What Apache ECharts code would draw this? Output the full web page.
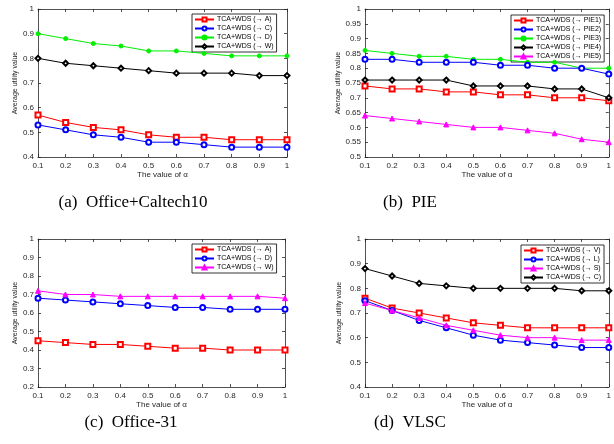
<!DOCTYPE html>
<html><head><meta charset="utf-8">
<script src="https://cdn.jsdelivr.net/npm/echarts@6/dist/echarts.min.js"></script>
<style>html,body{margin:0;padding:0;background:#fff}#c{width:614px;height:444px}</style>
</head><body><div id="c"></div>
<script>
const alphas = [0.1,0.2,0.3,0.4,0.5,0.6,0.7,0.8,0.9,1];

const aNames = ['TCA+WDS (→ A)','TCA+WDS (→ C)','TCA+WDS (→ D)','TCA+WDS (→ W)'];
const aA = [0.57,0.54,0.52,0.51,0.49,0.48,0.48,0.47,0.47,0.47];
const aC = [0.53,0.51,0.49,0.48,0.46,0.46,0.45,0.44,0.44,0.44];
const aD = [0.90,0.88,0.86,0.85,0.83,0.83,0.82,0.81,0.81,0.81];
const aW = [0.80,0.78,0.77,0.76,0.75,0.74,0.74,0.74,0.73,0.73];

const bNames = ['TCA+WDS (→ PIE1)','TCA+WDS (→ PIE2)','TCA+WDS (→ PIE3)','TCA+WDS (→ PIE4)','TCA+WDS (→ PIE5)'];
const bP1 = [0.74,0.73,0.73,0.72,0.72,0.71,0.71,0.70,0.70,0.69];
const bP2 = [0.83,0.83,0.82,0.82,0.82,0.81,0.81,0.80,0.80,0.78];
const bP3 = [0.86,0.85,0.84,0.84,0.83,0.83,0.82,0.82,0.80,0.80];
const bP4 = [0.76,0.76,0.76,0.76,0.74,0.74,0.74,0.73,0.73,0.70];
const bP5 = [0.64,0.63,0.62,0.61,0.60,0.60,0.59,0.58,0.56,0.55];

const cNames = ['TCA+WDS (→ A)','TCA+WDS (→ D)','TCA+WDS (→ W)'];
const cA = [0.45,0.44,0.43,0.43,0.42,0.41,0.41,0.40,0.40,0.40];
const cD = [0.68,0.67,0.66,0.65,0.64,0.63,0.63,0.62,0.62,0.62];
const cW = [0.72,0.70,0.70,0.69,0.69,0.69,0.69,0.69,0.69,0.68];

const dNames = ['TCA+WDS (→ V)','TCA+WDS (→ L)','TCA+WDS (→ S)','TCA+WDS (→ C)'];
const dV = [0.76,0.72,0.70,0.68,0.66,0.65,0.64,0.64,0.64,0.64];
const dL = [0.75,0.71,0.67,0.64,0.61,0.59,0.58,0.57,0.56,0.56];
const dS = [0.74,0.71,0.68,0.65,0.63,0.61,0.60,0.60,0.59,0.59];
const dC = [0.88,0.85,0.82,0.81,0.80,0.80,0.80,0.80,0.79,0.79];

const captions = ['(a)  Office+Caltech10','(b)  PIE','(c)  Office-31','(d)  VLSC'];
const xName = 'The value of α';
const yName = 'Average utility value';

const RED='#ff0000', BLUE='#0000ff', GREEN='#00f000', BLACK='#000000', MAG='#ff00ff';
const sty = {
  red:{c:RED,s:'emptyRect',z:5}, blue:{c:BLUE,s:'emptyCircle',z:5},
  green:{c:GREEN,s:'circle',z:4}, black:{c:BLACK,s:'emptyDiamond',z:6}, mag:{c:MAG,s:'triangle',z:6}
};

const panels = [
  {grid:{left:38,top:9,width:249,height:148}, y:[0.4,1,0.1], gap:19, legend:{left:192,top:14},
   series:[[aNames[0],aA,'red'],[aNames[1],aC,'blue'],[aNames[2],aD,'green'],[aNames[3],aW,'black']]},
  {grid:{left:365,top:9,width:246,height:148}, y:[0.5,1,0.05], gap:23, legend:{left:511,top:15},
   series:[[bNames[0],bP1,'red'],[bNames[1],bP2,'blue'],[bNames[2],bP3,'green'],[bNames[3],bP4,'black'],[bNames[4],bP5,'mag']]},
  {grid:{left:38,top:239,width:247,height:148}, y:[0.2,1,0.1], gap:19, legend:{left:192,top:244},
   series:[[cNames[0],cA,'red'],[cNames[1],cD,'blue'],[cNames[2],cW,'mag']]},
  {grid:{left:365,top:239,width:248,height:148}, y:[0.4,1,0.1], gap:22, legend:{left:521,top:245},
   series:[[dNames[0],dV,'red'],[dNames[1],dL,'blue'],[dNames[2],dS,'mag'],[dNames[3],dC,'black']]}
];

const AX = '#262626';
const FONT = 'Liberation Sans, Arial, sans-serif';
const option = {animation:false, backgroundColor:'#fff', grid:[], xAxis:[], yAxis:[], series:[], legend:[], graphic:[]};
const capPos = [[133,203],[410,203],[131,423],[410,423]];

panels.forEach((p,i)=>{
  option.grid.push(p.grid);
  const tick = {show:true, inside:true, length:3, lineStyle:{color:AX, width:0.8}};
  const line = {show:true, lineStyle:{color:AX, width:0.8}};
  option.xAxis.push({type:'value', gridIndex:i, min:0.1, max:1, interval:0.1,
    axisLine:line, axisTick:tick, splitLine:{show:false},
    axisLabel:{color:AX, fontSize:8, fontFamily:FONT, margin:5, formatter:v=>String(+v.toFixed(2))},
    name:xName, nameLocation:'middle', nameGap:13, nameTextStyle:{color:AX, fontSize:8, fontFamily:FONT}});
  option.xAxis.push({type:'value', gridIndex:i, position:'top', min:0.1, max:1, interval:0.1,
    axisLine:line, axisTick:tick, axisLabel:{show:false}, splitLine:{show:false}});
  option.yAxis.push({type:'value', gridIndex:i, min:p.y[0], max:p.y[1], interval:p.y[2],
    axisLine:line, axisTick:tick, splitLine:{show:false},
    axisLabel:{color:AX, fontSize:8, fontFamily:FONT, margin:4, formatter:v=>String(+v.toFixed(2))},
    name:yName, nameLocation:'middle', nameGap:p.gap, nameRotate:90, nameTextStyle:{color:AX, fontSize:7, fontFamily:FONT}});
  option.yAxis.push({type:'value', gridIndex:i, position:'right', min:p.y[0], max:p.y[1], interval:p.y[2],
    axisLine:line, axisTick:tick, axisLabel:{show:false}, splitLine:{show:false}});
  const names = [];
  p.series.forEach(([nm, vals, st])=>{
    const s = sty[st];
    const uname = i+':'+nm;
    names.push(uname);
    option.series.push({type:'line', name:uname, xAxisIndex:2*i, yAxisIndex:2*i,
      data: alphas.map((a,k)=>[a, vals[k]]), z:s.z,
      symbol:s.s, symbolSize: st==='green'?4:5,
      lineStyle:{color:s.c, width:1}, itemStyle:{color:s.c, borderColor:s.c, borderWidth:1}});
  });
  option.legend.push({data:names, orient:'vertical', left:p.legend.left, top:p.legend.top,
    itemWidth:19, itemHeight:5, itemGap:2, padding:[2,3,2,2],
    borderColor:'#000', borderWidth:0.8, backgroundColor:'#fff',
    formatter:n=>n.slice(n.indexOf(':')+1),
    textStyle:{fontSize:7, fontFamily:FONT, color:'#000', lineHeight:7, padding:[0,0,0,-2]}});
  option.graphic.push({type:'text', left:null, x:capPos[i][0], y:capPos[i][1],
    style:{text:captions[i], fill:'#000', font:'17px "Liberation Serif", "Times New Roman", serif',
      textAlign:'center', textVerticalAlign:'middle'}});
});

const chart = echarts.init(document.getElementById('c'), null, {renderer:'canvas'});
chart.setOption(option);
</script></body></html>
